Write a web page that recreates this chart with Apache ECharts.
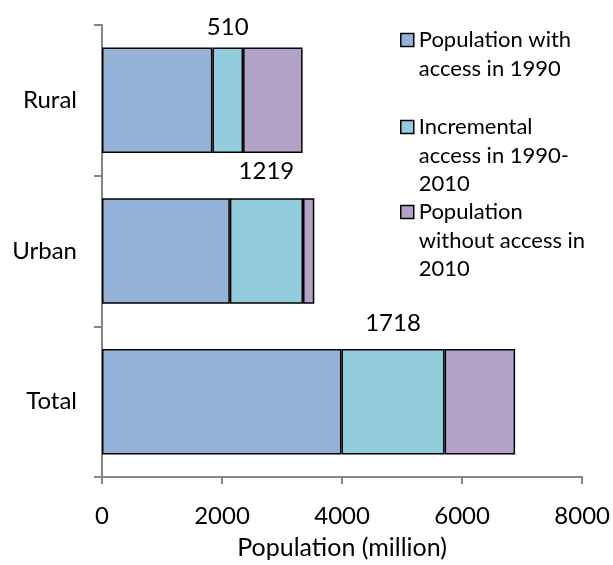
<!DOCTYPE html>
<html>
<head>
<meta charset="utf-8">
<script src="https://cdn.jsdelivr.net/npm/echarts@6/dist/echarts.min.js"></script>
<style>
  html, body { margin: 0; padding: 0; background: #fff; }
  #chart { width: 613px; height: 565px; }
</style>
</head>
<body>
<div id="chart"></div>
<script>
// Access to improved drinking water, by area (million people)
const categories = ['Total', 'Urban', 'Rural'];
const accessIn1990 = [3990, 2130, 1840];
const incrementalAccess = [1718, 1219, 510];
const withoutAccess2010 = [1175, 188, 992];
const seriesNames = [
  'Population with\naccess in 1990',
  'Incremental\naccess in 1990-\n2010',
  'Population\nwithout access in\n2010'
];
const xTicks = { min: 0, max: 8000, interval: 2000 };
const xAxisTitle = 'Population (million)';

const FONT = 'Lato';
const FS = 24;
const FS_TITLE = 25;
const FS_LEGEND = 22;
const LH = 28.5;
const colors = ['#95B3D7', '#93CDDD', '#B3A2C7'];
const labelGaps = [14, 15, 8]; // Total, Urban, Rural

const barStyle = (c) => ({ color: c, borderColor: '#000', borderWidth: 1.5 });

const series = [
  {
    name: seriesNames[0], type: 'bar', stack: 'pop', barCategoryGap: '30%',
    itemStyle: barStyle(colors[0]), data: accessIn1990
  },
  {
    name: seriesNames[1], type: 'bar', stack: 'pop',
    itemStyle: barStyle(colors[1]),
    data: incrementalAccess.map((v, i) => ({
      value: v,
      label: { distance: labelGaps[i] }
    })),
    label: {
      show: true, position: 'top', color: '#000',
      fontFamily: FONT, fontSize: FS,
      formatter: (p) => String(incrementalAccess[p.dataIndex])
    }
  },
  {
    name: seriesNames[2], type: 'bar', stack: 'pop',
    itemStyle: barStyle(colors[2]), data: withoutAccess2010
  }
];

// One legend block per series so each entry sits at its own height.
// Blank lines in front of the text keep the swatch level with the first line.
const legendCenters = [40, 127, 212];
const legends = seriesNames.map((name, i) => {
  const lines = name.split('\n').length;
  return {
    data: [name],
    left: 400,
    top: legendCenters[i] - (2 * lines - 1) * LH / 2,
    orient: 'vertical',
    selectedMode: false,
    padding: 0,
    itemWidth: 13,
    itemHeight: 13,
    icon: 'rect',
    itemStyle: { borderColor: '#000', borderWidth: 1.5 },
    formatter: (n) => '\n'.repeat(lines - 1) + n,
    textStyle: { fontFamily: FONT, fontSize: FS_LEGEND, color: '#000', lineHeight: LH }
  };
});

const chart = echarts.init(document.getElementById('chart'), null, { renderer: 'canvas' });
chart.setOption({
  animation: false,
  backgroundColor: '#fff',
  textStyle: { fontFamily: FONT },
  grid: { left: 102, right: 28, top: 25, bottom: 87, containLabel: false },
  legend: legends,
  xAxis: {
    type: 'value',
    min: xTicks.min, max: xTicks.max, interval: xTicks.interval,
    name: xAxisTitle, nameLocation: 'middle', nameGap: 58,
    nameTextStyle: { fontFamily: FONT, fontSize: FS_TITLE, color: '#000' },
    axisLine: { show: true, lineStyle: { color: '#868686', width: 2 } },
    axisTick: { show: true, length: 7, lineStyle: { color: '#868686', width: 2 } },
    axisLabel: {
      margin: 27, fontFamily: FONT, fontSize: FS, color: '#000',
      formatter: (v) => String(v)
    },
    splitLine: { show: false }
  },
  yAxis: {
    type: 'category',
    data: categories,
    axisLine: { show: true, lineStyle: { color: '#868686', width: 2 } },
    axisTick: { show: true, length: 8, alignWithLabel: false, lineStyle: { color: '#868686', width: 2 } },
    axisLabel: { margin: 25, fontFamily: FONT, fontSize: FS, color: '#000' },
    splitLine: { show: false }
  },
  series: series
});
</script>
</body>
</html>
